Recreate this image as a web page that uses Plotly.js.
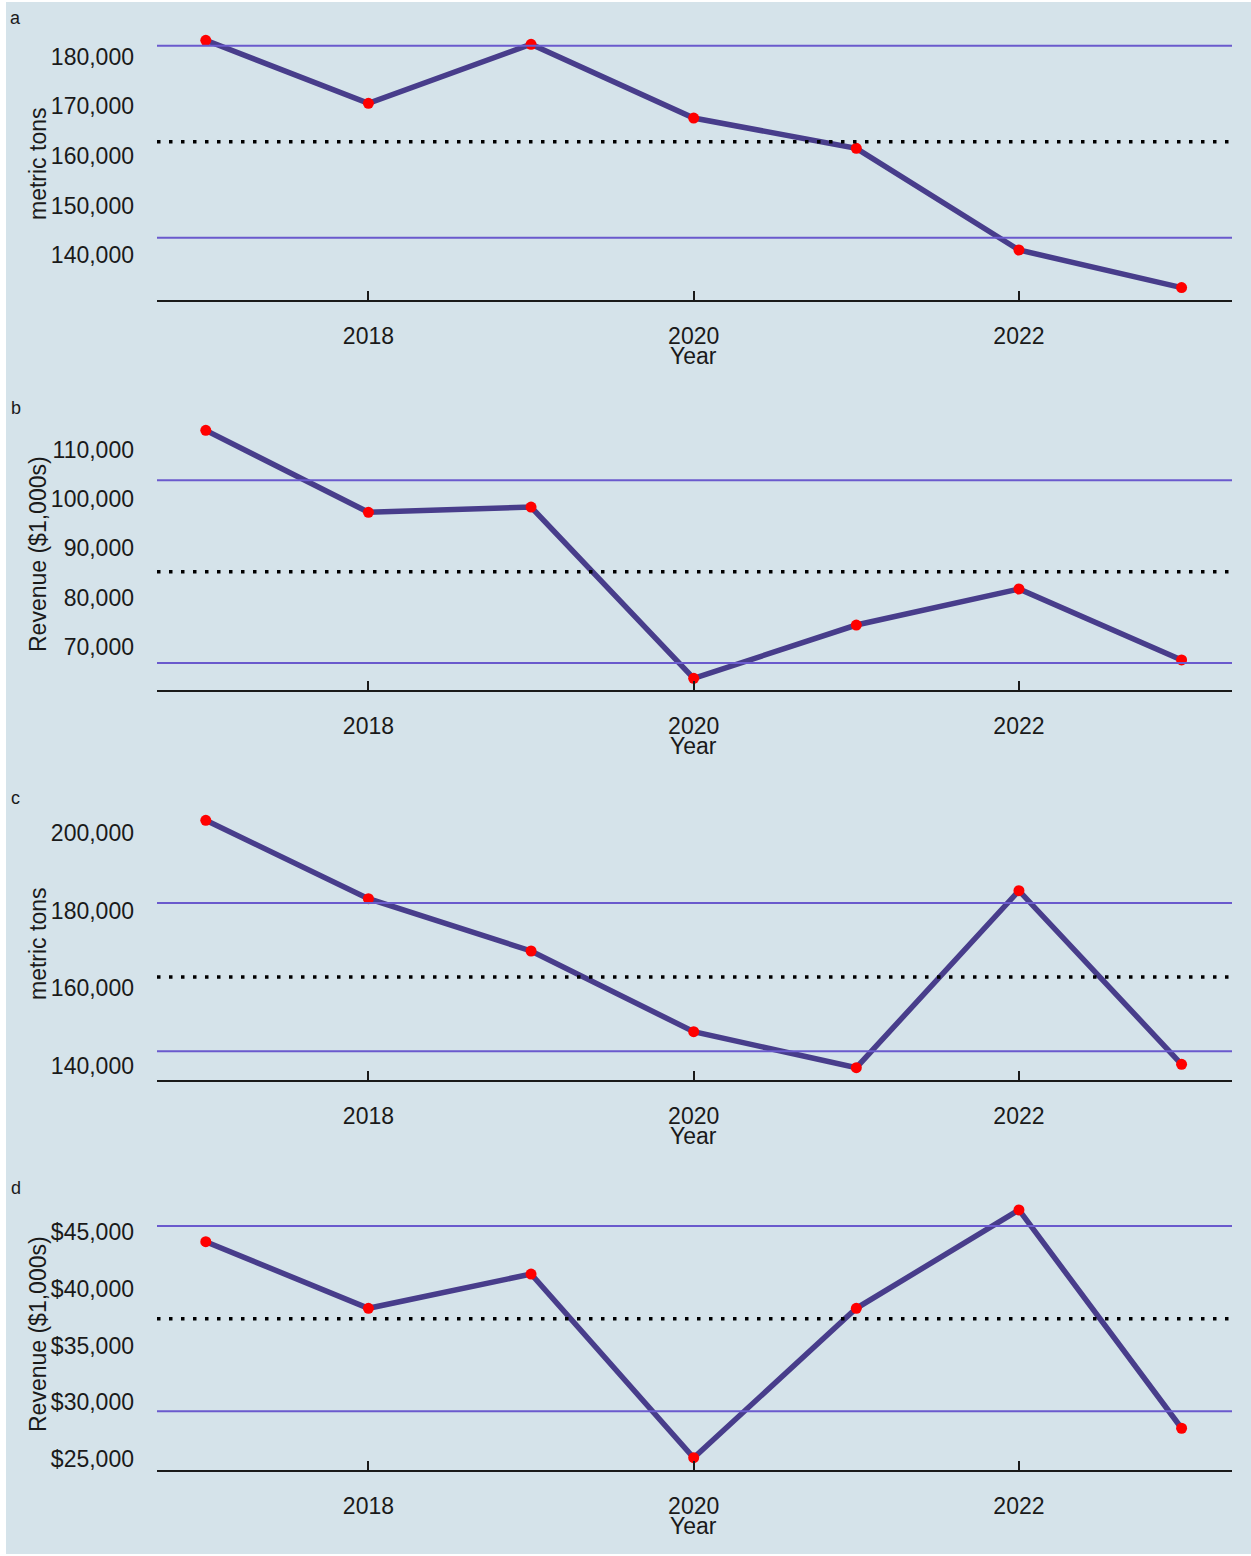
<!DOCTYPE html>
<html>
<head>
<meta charset="utf-8">
<script src="https://cdn.plot.ly/plotly-3.0.1.min.js"></script>
<style>
  html, body { margin: 0; padding: 0; background: #ffffff; }
  #chart { position: absolute; left: 6px; top: 2px; width: 1245px; height: 1552px; }
</style>
</head>
<body>
<div id="chart"></div>
<script>
// ---- data ----
const years = [2017, 2018, 2019, 2020, 2021, 2022, 2023];

const panelLetters = ["a", "b", "c", "d"];
const yTitles = ["metric tons", "Revenue ($1,000s)", "metric tons", "Revenue ($1,000s)"];

const seriesA = [183300, 170600, 182500, 167650, 161550, 141070, 133500];
const seriesB = [114000, 97330, 98400, 63560, 74400, 81730, 67290];
const seriesC = [203270, 183060, 169580, 148780, 139490, 185130, 140370];
const seriesD = [44120, 38270, 41280, 25140, 38270, 46910, 27730];

// reference lines: [centre (dotted), upper, lower]
const refA = [162850, 182215, 143547];
const refB = [85250, 103840, 66680];
const refC = [162880, 181950, 143720];
const refD = [37360, 45500, 29220];

const yTicksA = [140000, 150000, 160000, 170000, 180000];
const yTicksB = [70000, 80000, 90000, 100000, 110000];
const yTicksC = [140000, 160000, 180000, 200000];
const yTicksD = [25000, 30000, 35000, 40000, 45000];
const xTicks = [2018, 2020, 2022];

const series = [seriesA, seriesB, seriesC, seriesD];
const refs = [refA, refB, refC, refD];
const yTicks = [yTicksA, yTicksB, yTicksC, yTicksD];
const yPrefix = ["", "", "", "$"];
const yRanges = [[131000, 185780], [61184, 116509], [136323, 206445], [24062, 47961]];

// ---- layout geometry ----
const domains = [[0.81137, 1.0], [0.54092, 0.72954], [0.27046, 0.45908], [0.0, 0.18863]];
const BG = "#d5e3ea";
const FONT = "Liberation Sans, Arial, sans-serif";
const INK = "#1a1a1a";

const fmt = v => v.toString().replace(/\B(?=(\d{3})+(?!\d))/g, ",");

const traces = [];
const shapes = [];
const annotations = [];
const layout = {
  width: 1245, height: 1552,
  margin: {l: 151, r: 19, t: 26, b: 84},
  paper_bgcolor: BG, plot_bgcolor: BG,
  showlegend: false,
  font: {family: FONT, size: 23, color: INK},
  shapes: shapes, annotations: annotations
};

for (let i = 0; i < 4; i++) {
  const n = i === 0 ? "" : String(i + 1);
  const xa = "x" + n, ya = "y" + n;
  traces.push({
    x: years, y: series[i], xaxis: xa, yaxis: ya,
    type: "scatter", mode: "lines+markers",
    line: {color: "#483d8b", width: 5.5},
    marker: {color: "#ff0000", size: 11},
    hoverinfo: "x+y"
  });
  layout["xaxis" + n] = {
    domain: [0, 1], anchor: ya, range: [2016.7, 2023.31],
    tickmode: "array", tickvals: xTicks, ticktext: xTicks.map(String),
    ticks: "inside", ticklen: 9, tickwidth: 2, tickcolor: INK,
    showline: true, linecolor: INK, linewidth: 2,
    showgrid: false, zeroline: false,
    ticklabelstandoff: 14,
    tickfont: {family: FONT, size: 23, color: INK}
  };
  layout["yaxis" + n] = {
    domain: domains[i], anchor: xa, range: yRanges[i],
    tickmode: "array", tickvals: yTicks[i],
    ticktext: yTicks[i].map(v => yPrefix[i] + fmt(v)),
    ticks: "", showline: false, showgrid: false, zeroline: false,
    ticklabelstandoff: 22,
    tickfont: {family: FONT, size: 23, color: INK}
  };
  const r = refs[i];
  [r[1], r[2]].forEach(v => shapes.push({
    type: "line", xref: xa + " domain", yref: ya, x0: 0, x1: 1, y0: v, y1: v,
    line: {color: "#6a5acd", width: 2}, layer: "above"
  }));
  shapes.push({
    type: "line", xref: xa + " domain", yref: ya, x0: 0, x1: 1, y0: r[0], y1: r[0],
    line: {color: "#000000", width: 3.5, dash: "3.5px,8.5px"}, layer: "above"
  });
  const off = i * 0.27046;
  annotations.push({
    text: panelLetters[i], xref: "paper", yref: "paper",
    x: -0.1312, y: 1.00693 - off, xanchor: "center", yanchor: "middle",
    showarrow: false, font: {family: FONT, size: 18, color: INK}
  });
  annotations.push({
    text: "Year", xref: "paper", yref: "paper",
    x: 0.49953, y: 0.7725 - off, xanchor: "center", yanchor: "middle",
    showarrow: false, font: {family: FONT, size: 23, color: INK}
  });
  annotations.push({
    text: yTitles[i], xref: "paper", yref: "paper", textangle: -90,
    x: -0.1107, y: (domains[i][0] + domains[i][1]) / 2, xanchor: "center", yanchor: "middle",
    showarrow: false, font: {family: FONT, size: 23, color: INK}
  });
}

Plotly.newPlot("chart", traces, layout, {displayModeBar: false, staticPlot: true});
</script>
</body>
</html>
